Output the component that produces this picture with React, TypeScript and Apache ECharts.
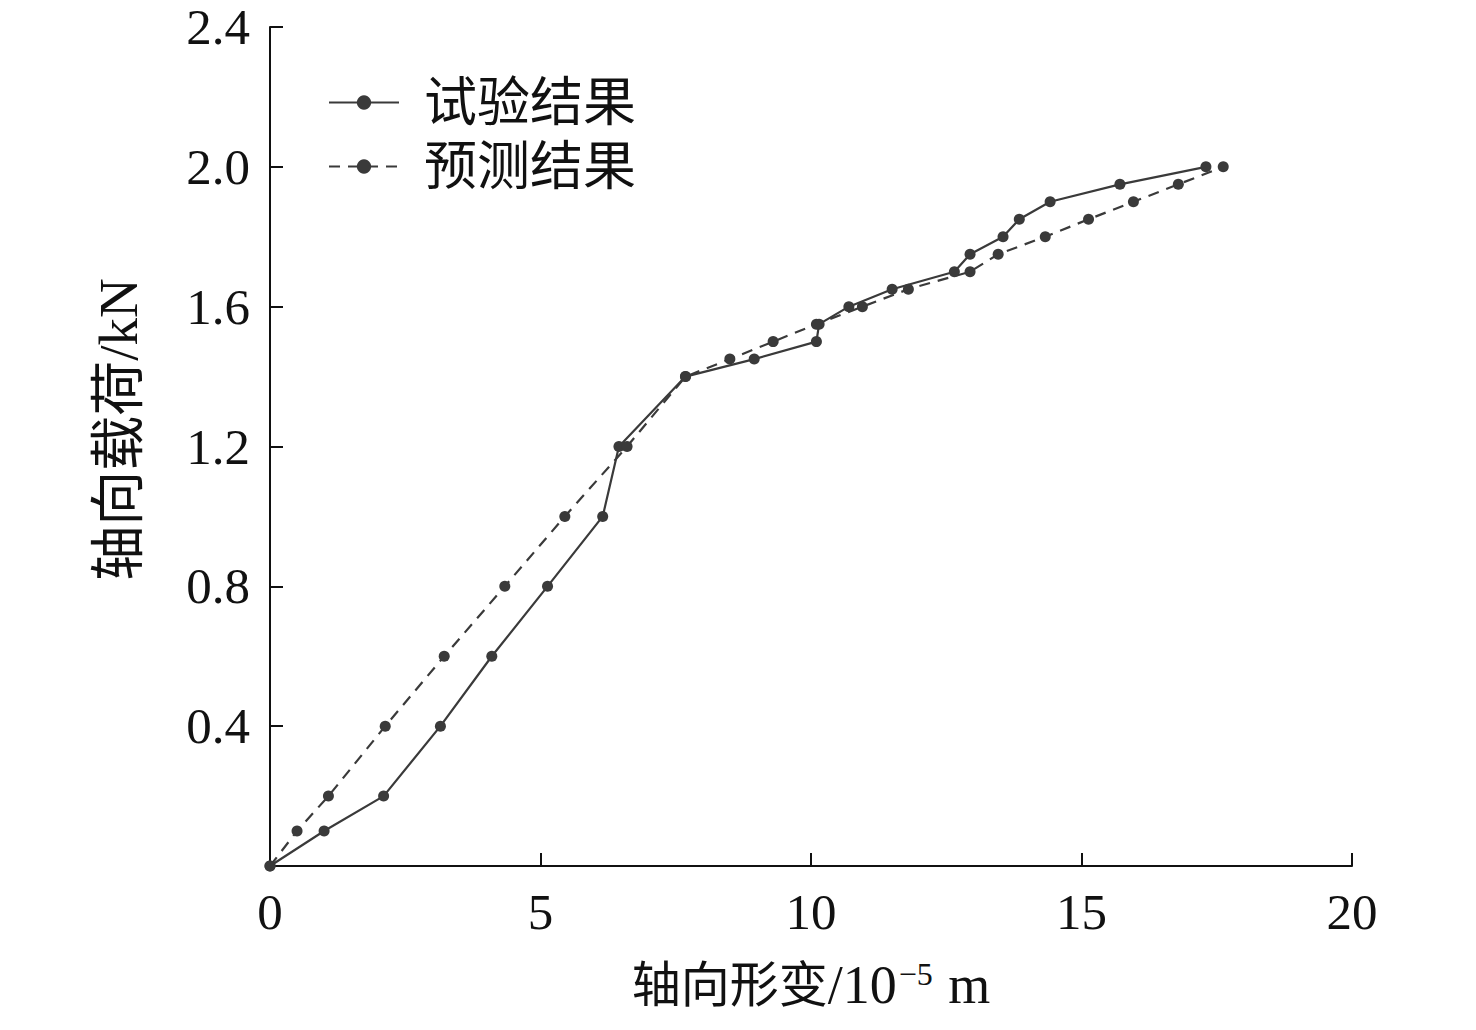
import React, { useEffect, useRef } from "react";
import * as echarts from "echarts";

const seriesNames = ["试验结果", "预测结果"];
const testX = [0, 1.0, 2.1, 3.15, 4.1, 5.13, 6.15, 6.45, 7.68, 8.95, 10.1, 10.15, 10.7, 11.5, 12.65, 12.94, 13.55, 13.85, 14.42, 15.71, 17.3];
const testY = [0, 0.1, 0.2, 0.4, 0.6, 0.8, 1.0, 1.2, 1.4, 1.45, 1.5, 1.55, 1.6, 1.65, 1.7, 1.75, 1.8, 1.85, 1.9, 1.95, 2.0];
const predX = [0, 0.5, 1.08, 2.13, 3.22, 4.34, 5.45, 6.6, 7.68, 8.5, 9.3, 10.1, 10.95, 11.8, 12.94, 13.46, 14.33, 15.13, 15.96, 16.79, 17.62];
const predY = [0, 0.1, 0.2, 0.4, 0.6, 0.8, 1.0, 1.2, 1.4, 1.45, 1.5, 1.55, 1.6, 1.65, 1.7, 1.75, 1.8, 1.85, 1.9, 1.95, 2.0];
const xTicks = [0, 5, 10, 15, 20];
const yTicks = [0, 0.4, 0.8, 1.2, 1.6, 2.0, 2.4];

const FONT = "'Liberation Serif', 'Times New Roman', 'Noto Sans CJK SC', serif";
const INK = "#111";
const LINE = "#3a3a3a";

export default function App() {
  const ref = useRef<HTMLDivElement>(null);
  useEffect(() => {
    document.body.style.margin = "0";
    const chart = echarts.init(ref.current!, null, { renderer: "svg" });
    const axisCommon = {
      axisLine: { show: true, lineStyle: { color: INK, width: 2 } },
      axisTick: { show: true, inside: true, length: 13, lineStyle: { color: INK, width: 2 } },
      splitLine: { show: false },
    };
    chart.setOption({
      animation: false,
      backgroundColor: "#ffffff",
      grid: { left: 270, right: 124, top: 27, bottom: 164, containLabel: false },
      legend: {
        orient: "vertical",
        left: 328,
        top: 76,
        padding: 0,
        itemWidth: 70,
        itemHeight: 18,
        itemGap: 11,
        textStyle: { fontFamily: FONT, fontSize: 53, color: INK, padding: [0, 0, 0, 20] },
        data: seriesNames,
      },
      xAxis: {
        type: "value",
        min: xTicks[0],
        max: xTicks[xTicks.length - 1],
        interval: 5,
        ...axisCommon,
        axisLabel: { fontFamily: FONT, fontSize: 51, color: INK, margin: 20 },
        name: "{c|轴向形变}{a|/10}{s|−5}{a| m}",
        nameLocation: "middle",
        nameGap: 92,
        nameTextStyle: {
          fontFamily: FONT,
          color: INK,
          verticalAlign: "top",
          rich: {
            c: { fontFamily: FONT, fontSize: 49, color: INK },
            a: { fontFamily: FONT, fontSize: 54, color: INK },
            s: { fontFamily: FONT, fontSize: 32, color: INK, verticalAlign: "top", padding: [0, 2, 20, 2] },
          },
        },
      },
      yAxis: {
        type: "value",
        min: yTicks[0],
        max: yTicks[yTicks.length - 1],
        interval: 0.4,
        ...axisCommon,
        axisLabel: {
          fontFamily: FONT,
          fontSize: 51,
          color: INK,
          margin: 20,
          formatter: (v: number) => (v === 0 ? "" : v.toFixed(1)),
        },
        name: "轴向载荷/kN",
        nameLocation: "middle",
        nameGap: 124,
        nameTextStyle: { fontFamily: FONT, fontSize: 55, color: INK, padding: [0, 0, 0, 34] },
      },
      series: [
        {
          name: seriesNames[0],
          type: "line",
          data: testX.map((x, i) => [x, testY[i]]),
          symbol: "circle",
          symbolSize: 11,
          itemStyle: { color: LINE },
          lineStyle: { color: LINE, width: 2.2, type: "solid" },
        },
        {
          name: seriesNames[1],
          type: "line",
          data: predX.map((x, i) => [x, predY[i]]),
          symbol: "circle",
          symbolSize: 11,
          itemStyle: { color: LINE },
          lineStyle: { color: LINE, width: 2.2, type: [11, 8] },
        },
      ],
    });
    return () => chart.dispose();
  }, []);
  return <div ref={ref} style={{ width: 1476, height: 1030 }} />;
}
